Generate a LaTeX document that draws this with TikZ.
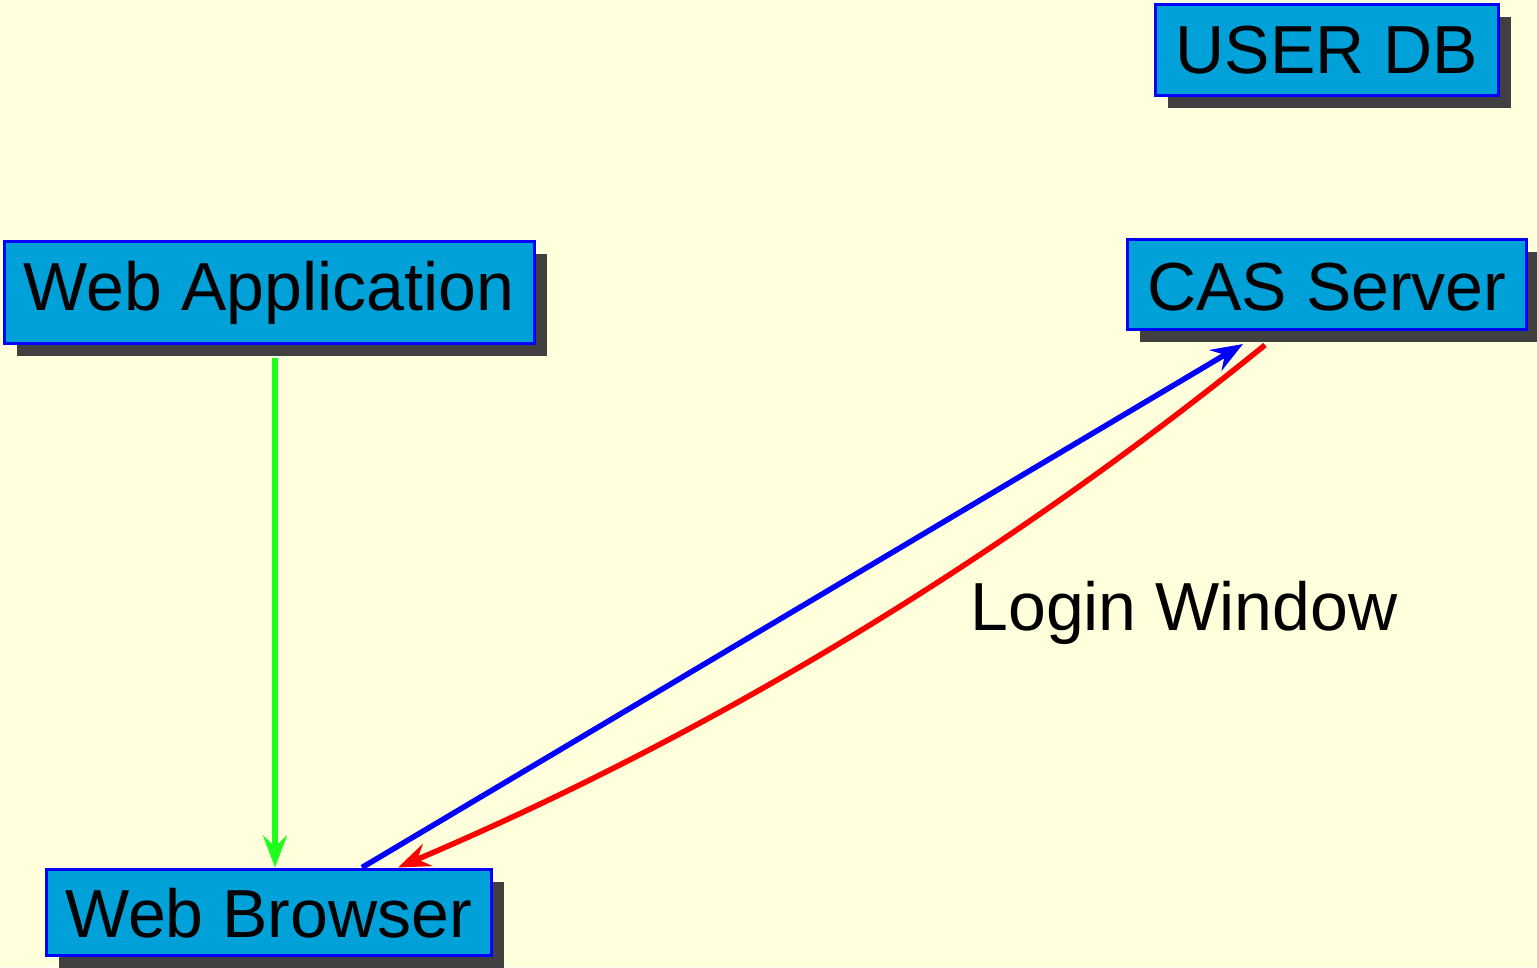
\documentclass[tikz,border=0pt]{standalone}
\usepackage{fontspec}
\setmainfont{Liberation Sans}
\usetikzlibrary{arrows.meta,shadows}
\definecolor{bgc}{RGB}{255,255,220}
\definecolor{boxfill}{RGB}{0,160,216}
\definecolor{shadowc}{RGB}{64,64,64}
\definecolor{edgeblue}{RGB}{0,0,255}
\definecolor{edgegreen}{RGB}{30,255,30}
\definecolor{edgered}{RGB}{255,0,0}
\tikzset{
  sysbox/.style={draw=edgeblue, line width=3pt, fill=boxfill, rectangle, inner sep=0pt,
    font=\fontsize{68}{80}\selectfont, text height=55pt, align=center,
    drop shadow={shadow xshift=12.5pt, shadow yshift=-12.5pt, fill=shadowc, opacity=1}},
  flow/.style={line width=5.5pt, -{Stealth[length=32pt, width=24pt, inset=11pt]}},
  plainlbl/.style={inner sep=0pt, font=\fontsize{68}{80}\selectfont}
}
\begin{document}
\begin{tikzpicture}[x=1pt, y=-1pt]
\fill[bgc] (0,0) rectangle (1537,967);
\useasboundingbox (0,0) rectangle (1537,967);

\node[sysbox, minimum width=343pt, minimum height=91pt, text depth=9pt] (userdb) at (1327,50) {USER DB};
\node[sysbox, minimum width=530pt, minimum height=102pt, text depth=19pt] (webapp) at (269,292) {Web Application};
\node[sysbox, minimum width=399pt, minimum height=90pt, text depth=4pt] (cas) at (1327,284.5) {CAS Server};
\node[sysbox, minimum width=445pt, minimum height=86pt, text depth=5pt] (browser) at (268.5,912) {Web Browser};

\node[plainlbl, anchor=base] (login) at (1184,630) {Login Window};

\draw[flow, edgegreen] ([xshift=6pt, yshift=-13pt]webapp.south) -- ([xshift=6.5pt]browser.north);
\draw[flow, edgeblue] ([xshift=93.5pt]browser.north) -- ([xshift=-84pt, yshift=-13pt]cas.south);
\draw[flow, edgered] ([xshift=-62pt, yshift=-14pt]cas.south) .. controls +(-265,215) and +(313,-133) .. ([xshift=129.5pt]browser.north);
\end{tikzpicture}
\end{document}
